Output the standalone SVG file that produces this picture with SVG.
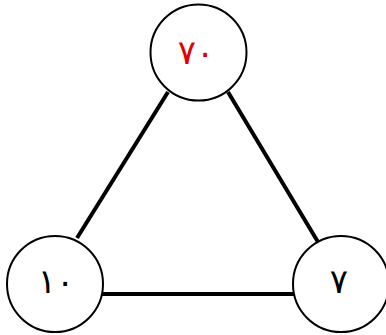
<svg xmlns="http://www.w3.org/2000/svg" width="386" height="335" viewBox="0 0 386 335">
<style>
.node circle{fill:#fff;stroke:#000;stroke-width:2}
.node text{font-family:"DejaVu Sans",sans-serif;font-size:34px;text-anchor:middle;dominant-baseline:central}
.edge{stroke:#000;stroke-width:4;fill:none}
</style>
<rect width="386" height="335" fill="#fff"/>
<g id="edges">
<line class="edge" x1="168" y1="92" x2="77" y2="238"/>
<line class="edge" x1="228" y1="92" x2="318" y2="242"/>
<line class="edge" x1="102" y1="294" x2="294" y2="294"/>
</g>
<g id="node-top" class="node">
<circle cx="198.5" cy="52.5" r="48"/>
<text x="196" y="52" fill="#e00000">٧٠</text>
</g>
<g id="node-left" class="node">
<circle cx="55" cy="284" r="48"/>
<text x="56" y="281" fill="#000">١٠</text>
</g>
<g id="node-right" class="node">
<circle cx="341" cy="284" r="48"/>
<text x="339" y="281" fill="#000">٧</text>
</g>
</svg>
